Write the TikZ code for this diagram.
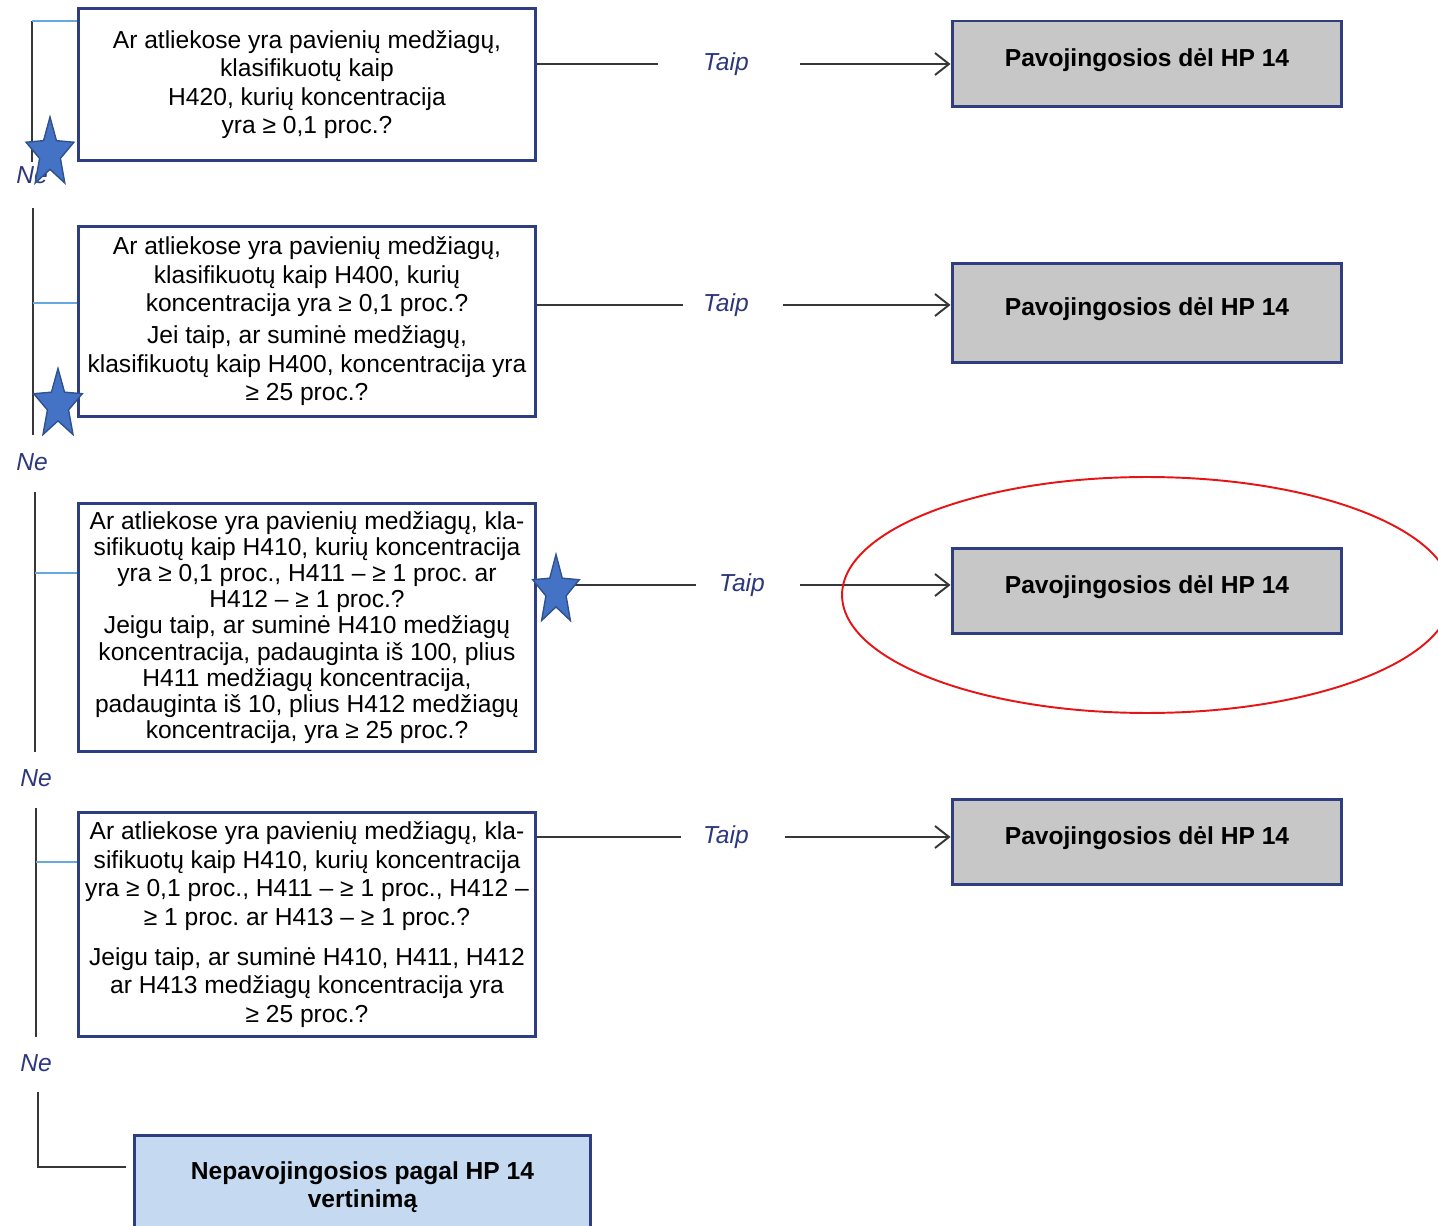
\documentclass[tikz,border=0pt]{standalone}
\usepackage{fontspec}
\setmainfont{Liberation Sans}
\usepackage{tikz}
\usetikzlibrary{shapes.geometric, arrows.meta}
\frenchspacing
\definecolor{boxblue}{RGB}{47,62,128}
\definecolor{stubblue}{RGB}{100,170,225}
\definecolor{linegray}{RGB}{55,55,55}
\definecolor{labelblue}{RGB}{45,55,125}
\definecolor{starfill}{RGB}{68,114,196}
\definecolor{stardraw}{RGB}{47,82,143}
\definecolor{resgray}{RGB}{199,199,199}
\definecolor{finblue}{RGB}{197,217,240}
\definecolor{ringred}{RGB}{230,20,20}
\tikzstyle{question} = [rectangle, draw=boxblue, line width=1.7pt, fill=white, minimum width=9.16cm, align=center, inner sep=0pt]
\tikzstyle{result} = [rectangle, draw=boxblue, line width=1.7pt, fill=resgray, minimum width=7.8cm, minimum height=1.72cm, font=\fontsize{14}{16}\selectfont\bfseries, text height=10pt, text depth=7pt]
\tikzstyle{final} = [rectangle, draw=boxblue, line width=1.7pt, fill=finblue, minimum width=9.14cm, minimum height=2.1cm, align=center, font=\fontsize{14}{16}\selectfont\bfseries]
\tikzstyle{yes} = [inner sep=0pt, font=\fontsize{14}{16}\selectfont\itshape, text=labelblue]
\tikzstyle{no} = [inner sep=0pt, font=\fontsize{14}{16}\selectfont\itshape, text=labelblue]
\tikzstyle{link} = [draw=linegray, line width=1.1pt]
\tikzstyle{flow} = [draw=linegray, line width=1.1pt, -{Straight Barb[length=0.28cm, width=0.44cm]}]
\tikzstyle{trunk} = [draw=linegray, line width=1.1pt]
\tikzstyle{stub} = [draw=stubblue, line width=0.9pt]
\tikzstyle{mark star} = [star, star points=5, star point ratio=2.3, inner sep=0pt, minimum size=1.46cm, fill=starfill, draw=stardraw, line width=0.8pt]

\begin{document}
\begin{tikzpicture}[x=0.02cm, y=-0.02cm]
\useasboundingbox (0,0) rectangle (1438,1226);

% questions
\node[question, font=\fontsize{14}{16.2}\selectfont, minimum height=3.06cm] (q1) at (307,84.5)
  {Ar atliekose yra pavienių medžiagų,\\ klasifikuotų kaip\\ H420, kurių koncentracija\\ yra ≥ 0,1 proc.?};
\node[question, font=\fontsize{14}{16.2}\selectfont, minimum height=3.82cm] (q2) at (307,321.5)
  {Ar atliekose yra pavienių medžiagų,\\ klasifikuotų kaip H400, kurių\\ koncentracija yra ≥ 0,1 proc.?\\[2pt]
   Jei taip, ar suminė medžiagų,\\ klasifikuotų kaip H400, koncentracija yra\\ ≥ 25 proc.?};
\node[question, font=\fontsize{14}{14.9}\selectfont, minimum height=4.98cm] (q3) at (307,627.5)
  {Ar atliekose yra pavienių medžiagų, kla-\\ sifikuotų kaip H410, kurių koncentracija\\ yra ≥ 0,1 proc., H411 – ≥ 1 proc. ar\\ H412 – ≥ 1 proc.?\\
   Jeigu taip, ar suminė H410 medžiagų\\ koncentracija, padauginta iš 100, plius\\ H411 medžiagų koncentracija,\\ padauginta iš 10, plius H412 medžiagų\\ koncentracija, yra ≥ 25 proc.?};
\node[question, font=\fontsize{14}{16.2}\selectfont, minimum height=4.5cm] (q4) at (307,924.5)
  {Ar atliekose yra pavienių medžiagų, kla-\\ sifikuotų kaip H410, kurių koncentracija\\ yra ≥ 0,1 proc., H411 – ≥ 1 proc., H412 –\\ ≥ 1 proc. ar H413 – ≥ 1 proc.?\\[6.5pt]
   Jeigu taip, ar suminė H410, H411, H412\\ ar H413 medžiagų koncentracija yra\\ ≥ 25 proc.?};

% results
\node[result] (r1) at (1147,64) {Pavojingosios dėl HP 14};
\node[result, minimum height=2cm] (r2) at (1147,313) {Pavojingosios dėl HP 14};
\node[result] (r3) at (1147,591) {Pavojingosios dėl HP 14};
\node[result] (r4) at (1147,842) {Pavojingosios dėl HP 14};
\node[final] (fin) at (362.5,1187.5) {Nepavojingosios pagal HP 14\\ vertinimą};

% Taip
\node[yes] (t1) at (726,64) {Taip};
\node[yes] (t2) at (726,305) {Taip};
\node[yes] (t3) at (742,585) {Taip};
\node[yes] (t4) at (726,837) {Taip};
\foreach \i/\l/\r in {1/0.9cm/1.02cm, 2/0.4cm/0.68cm, 3/0.46cm/0.7cm, 4/0.44cm/0.72cm} {
  \draw[link, shorten >=\l] (q\i.east |- t\i) -- (t\i.west);
  \draw[flow, shorten <=\r] (t\i.east) -- (t\i -| r\i.west);
}

% Ne
\node[no] (n1) at (32,175) {Ne};
\node[no] (n2) at (32,462) {Ne};
\node[no] (n3) at (36,778) {Ne};
\node[no] (n4) at (36,1063) {Ne};

\coordinate (v1a) at (32,21);   \coordinate (v1b) at (32,162);
\coordinate (v2a) at (33,208);  \coordinate (v2b) at (33,435);  \coordinate (s2) at (33,303);
\coordinate (v3a) at (35,492);  \coordinate (v3b) at (35,752);  \coordinate (s3) at (35,573);
\coordinate (v4a) at (36,808);  \coordinate (v4b) at (36,1037); \coordinate (s4) at (36,862);
\coordinate (v5a) at (38,1092); \coordinate (v5b) at (126,1167);
\draw[trunk] (v1a) -- (v1b);
\draw[stub] (v1a) -- (v1a -| q1.west);
\foreach \i in {2,3,4} {
  \draw[trunk] (v\i a) -- (v\i b);
  \draw[stub] (s\i) -- (s\i -| q\i.west);
}
\draw[trunk] (v5a) |- (v5b);

% stars
\node[mark star, xscale=0.69] (st1) at (50,153.5) {};
\node[mark star, xscale=0.70] (st2) at (58,405) {};
\node[mark star, xscale=0.67] (st3) at (556,591) {};

% ring
\draw[ringred, line width=1.1pt] (1147,595) ellipse [x radius=6.1cm, y radius=2.36cm];
\end{tikzpicture}
\end{document}
